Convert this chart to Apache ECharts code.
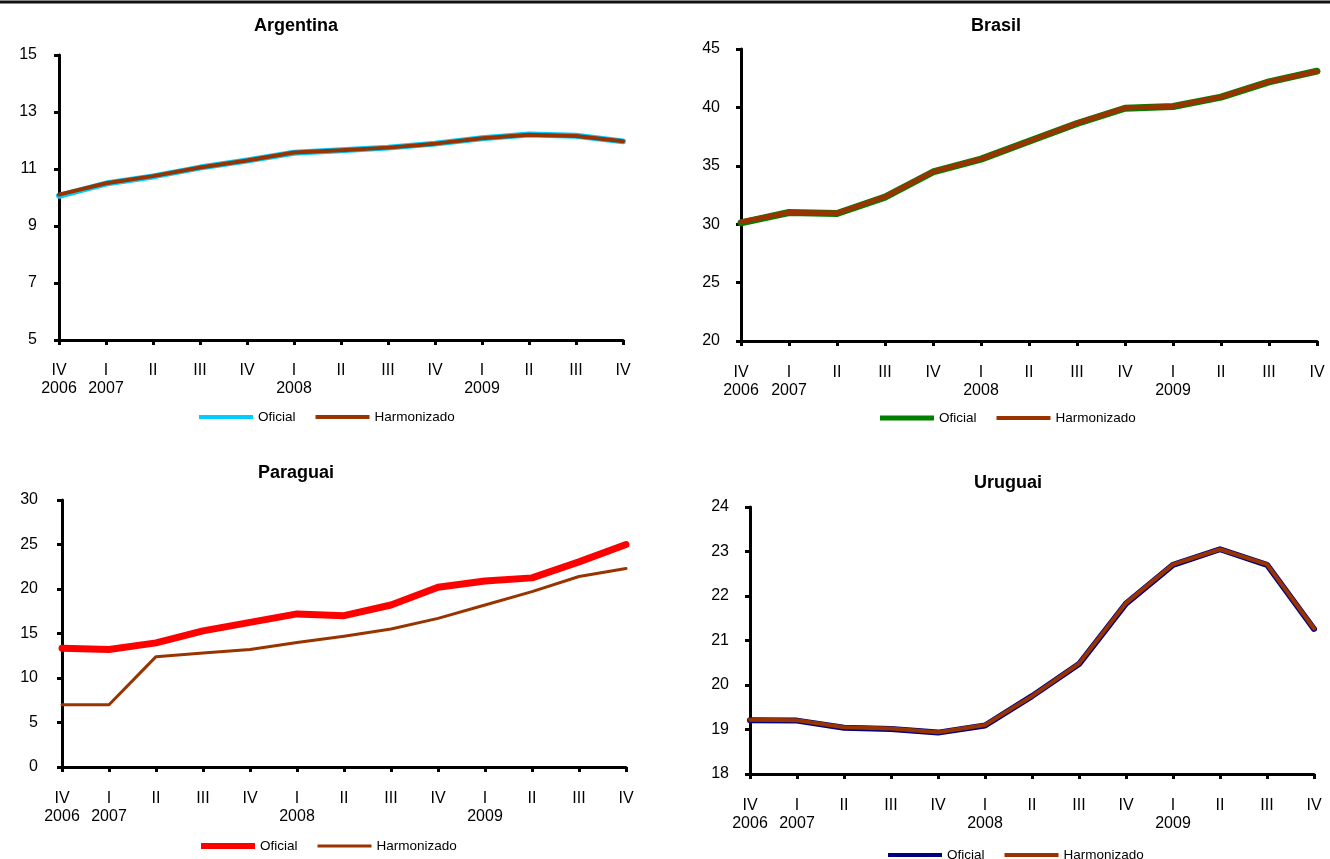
<!DOCTYPE html>
<html>
<head>
<meta charset="utf-8">
<script src="https://cdn.jsdelivr.net/npm/echarts@6/dist/echarts.min.js"></script>
<style>
html,body{margin:0;padding:0;background:#fff;}
#c{width:1330px;height:859px;}
</style>
</head>
<body>
<div id="c"></div>
<script>
// ---- data ----
const quarters = ['IV\n2006','I\n2007','II','III','IV','I\n2008','II','III','IV','I\n2009','II','III','IV'];

const arOficial     = [10.06, 10.49, 10.74, 11.05, 11.30, 11.57, 11.66, 11.75, 11.89, 12.08, 12.21, 12.17, 11.97];
const arHarmonizado = [10.10, 10.50, 10.75, 11.05, 11.30, 11.58, 11.66, 11.75, 11.89, 12.08, 12.20, 12.16, 11.97];

const brOficial     = [30.12, 31.00, 30.92, 32.32, 34.47, 35.57, 37.10, 38.62, 39.93, 40.08, 40.88, 42.18, 43.10];
const brHarmonizado = [30.20, 31.00, 30.95, 32.35, 34.50, 35.60, 37.10, 38.65, 39.95, 40.10, 40.90, 42.20, 43.10];

const pyOficial     = [13.35, 13.20, 13.95, 15.30, 16.25, 17.20, 17.00, 18.20, 20.20, 20.90, 21.25, 23.05, 25.00];
const pyHarmonizado = [7.00, 7.00, 12.40, 12.80, 13.20, 14.00, 14.70, 15.50, 16.70, 18.20, 19.70, 21.40, 22.30];

const uyOficial     = [19.21, 19.20, 19.04, 19.01, 18.93, 19.09, 19.75, 20.47, 21.83, 22.70, 23.05, 22.70, 21.26];
const uyHarmonizado = [19.22, 19.21, 19.05, 19.02, 18.94, 19.10, 19.75, 20.48, 21.84, 22.71, 23.05, 22.71, 21.27];

const titles = ['Argentina', 'Brasil', 'Paraguai', 'Uruguai'];
const seriesNames = ['Oficial', 'Harmonizado'];

// ---- layout / style ----
const FONT = 'Liberation Sans, Arial, sans-serif';
const panels = [
  {key:'AR', grid:{left:59, top:55, width:564, height:285}, min:5, max:15, interval:2,
   title:{x:296, y:17}, legend:{left:199, top:410}, xMargin:22, yMargin:22,
   colors:['#00CCFF','#993300'], widths:[6,4], legendH:[4,4],
   data:[arOficial, arHarmonizado]},
  {key:'BR', grid:{left:741, top:49, width:576, height:292}, min:20, max:45, interval:5,
   title:{x:996, y:17}, legend:{left:880, top:411}, xMargin:23, yMargin:21,
   colors:['#008000','#993300'], widths:[7,5], legendH:[5,4],
   data:[brOficial, brHarmonizado]},
  {key:'PY', grid:{left:62, top:500, width:564, height:267}, min:0, max:30, interval:5,
   title:{x:296, y:464}, legend:{left:201, top:839}, xMargin:23, yMargin:24,
   colors:['#FF0000','#993300'], widths:[7,3], legendH:[6,3],
   data:[pyOficial, pyHarmonizado]},
  {key:'UY', grid:{left:750, top:507, width:564, height:267}, min:18, max:24, interval:1,
   title:{x:1008, y:474}, legend:{left:888, top:848}, xMargin:23, yMargin:21,
   colors:['#000080','#993300'], widths:[6,4], legendH:[4,4],
   data:[uyOficial, uyHarmonizado]}
];

function barIcon(h) {
  const a = (14 - h) / 2, b = (14 + h) / 2;
  return 'path://M0,0L0.01,0M0,' + a + 'H54V' + b + 'H0ZM54,14L53.99,14';
}

const option = {
  animation: false,
  backgroundColor: '#fff',
  textStyle: {fontFamily: FONT},
  graphic: [{type:'rect', shape:{x:0, y:0.5, width:1330, height:3}, style:{fill:'#111'}, silent:true}],
  title: [], grid: [], xAxis: [], yAxis: [], legend: [], series: []
};

panels.forEach((p, i) => {
  option.title.push({
    text: titles[i], left: p.title.x, top: p.title.y, textAlign: 'center', padding: 0,
    textStyle: {fontFamily: FONT, fontSize: 18, fontWeight: 'bold', color: '#000', lineHeight: 18}
  });
  option.grid.push(Object.assign({containLabel: false}, p.grid));
  option.xAxis.push({
    type: 'category', gridIndex: i, data: quarters, boundaryGap: false,
    axisLine: {show: true, onZero: false, lineStyle: {color: '#000', width: 3}},
    axisTick: {show: true, interval: 0, length: 5, lineStyle: {color: '#000', width: 3}},
    axisLabel: {interval: 0, margin: p.xMargin, color: '#000', fontFamily: FONT, fontSize: 16, lineHeight: 18},
    splitLine: {show: false}
  });
  option.yAxis.push({
    type: 'value', gridIndex: i, min: p.min, max: p.max, interval: p.interval,
    axisLine: {show: true, lineStyle: {color: '#000', width: 3}},
    axisTick: {show: true, length: 5, lineStyle: {color: '#000', width: 3}},
    axisLabel: {margin: p.yMargin, color: '#000', fontFamily: FONT, fontSize: 16},
    splitLine: {show: false}
  });
  option.legend.push({
    left: p.legend.left, top: p.legend.top, padding: 0, itemGap: 20,
    itemWidth: 54, itemHeight: 14, orient: 'horizontal',
    selectedMode: false,
    data: seriesNames.map((n, k) => ({name: n + '|' + p.key, icon: barIcon(p.legendH[k])})),
    formatter: name => name.split('|')[0],
    textStyle: {fontFamily: FONT, fontSize: 13.5, color: '#000', lineHeight: 14}
  });
  seriesNames.forEach((n, k) => {
    option.series.push({
      name: n + '|' + p.key, type: 'line', xAxisIndex: i, yAxisIndex: i,
      data: p.data[k], symbol: 'none', smooth: false, z: 2 + k,
      color: p.colors[k],
      lineStyle: {color: p.colors[k], width: p.widths[k], cap: 'round', join: 'round'},
      itemStyle: {color: p.colors[k]}
    });
  });
});

const chart = echarts.init(document.getElementById('c'), null, {renderer: 'canvas'});
chart.setOption(option);
</script>
</body>
</html>
